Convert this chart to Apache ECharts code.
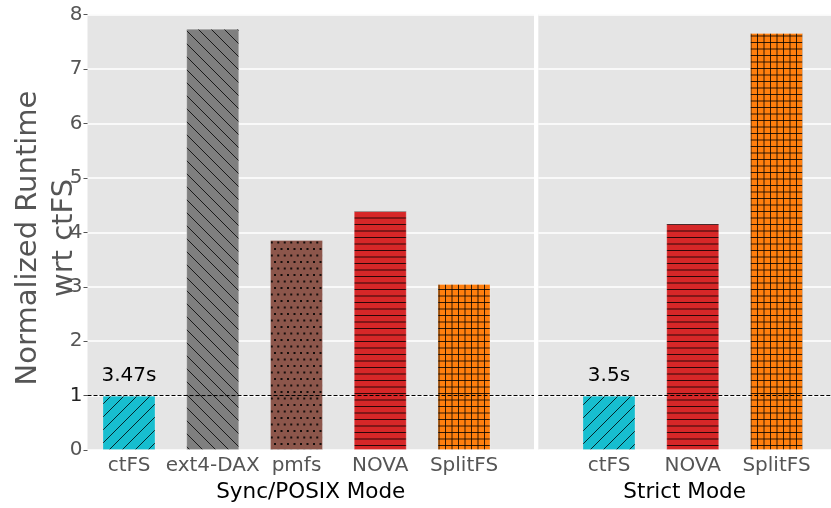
<!DOCTYPE html>
<html>
<head>
<meta charset="utf-8">
<script src="https://cdn.jsdelivr.net/npm/echarts@6/dist/echarts.min.js"></script>
<style>
  html, body { margin: 0; padding: 0; background: #fff; }
  #chart { width: 831px; height: 508px; }
</style>
</head>
<body>
<div id="chart"></div>
<script>
// Runtime normalised to ctFS, per file system, in two consistency modes
const posixCats = ['ctFS', 'ext4-DAX', 'pmfs', 'NOVA', 'SplitFS'];
const posixVals = [1.0, 7.74, 3.86, 4.39, 3.05];
const strictCats = ['ctFS', 'NOVA', 'SplitFS'];
const strictVals = [1.0, 4.16, 7.66];
const posixBaseLabel = '3.47s';
const strictBaseLabel = '3.5s';
const yTicks = [0, 1, 2, 3, 4, 5, 6, 7, 8];
const baseline = 1;

const FONT = 'DejaVu Sans';
const TICK_GREY = '#555555';

// Fill colour and hatch style for each file system
const fsStyle = {
  'ctFS':     { color: '#17becf', hatch: 'slash' },
  'ext4-DAX': { color: '#7f7f7f', hatch: 'backslash' },
  'pmfs':     { color: '#8c564b', hatch: 'dots' },
  'NOVA':     { color: '#d62728', hatch: 'hlines' },
  'SplitFS':  { color: '#ff7f0e', hatch: 'grid' }
};

function hatchPattern(bg, kind) {
  const s = 13;
  const c = document.createElement('canvas');
  c.width = s; c.height = s;
  const ctx = c.getContext('2d');
  ctx.fillStyle = bg;
  ctx.fillRect(0, 0, s, s);
  ctx.strokeStyle = 'rgba(0,0,0,0.8)';
  ctx.fillStyle = 'rgba(0,0,0,0.85)';
  ctx.lineWidth = 1;
  ctx.beginPath();
  if (kind === 'slash') {
    [0, s, 2 * s].forEach(k => { ctx.moveTo(-2, k + 2); ctx.lineTo(k + 2, -2); });
  } else if (kind === 'backslash') {
    [-s, 0, s].forEach(k => { ctx.moveTo(k - 2, -2); ctx.lineTo(k + s + 2, s + 2); });
  } else if (kind === 'hlines' || kind === 'grid') {
    [3.5, 10].forEach(y => { ctx.moveTo(0, y); ctx.lineTo(s, y); });
    if (kind === 'grid') {
      [3.5, 10].forEach(x => { ctx.moveTo(x, 0); ctx.lineTo(x, s); });
    }
  }
  ctx.stroke();
  if (kind === 'dots') {
    [[2, 2], [8.5, 2], [5.25, 8.5], [11.75, 8.5], [-1.25, 8.5]].forEach(([x, y]) => {
      ctx.fillRect(x - 1, y - 1, 2, 2);
    });
  }
  return { image: c, repeat: 'repeat' };
}

function barItems(cats, vals, baseText) {
  return cats.map((name, i) => {
    const st = fsStyle[name];
    const item = {
      value: [i, vals[i]],
      itemStyle: {
        color: hatchPattern(st.color, st.hatch),
        borderColor: 'rgba(255,255,255,0.25)',
        borderWidth: 1
      }
    };
    if (i === 0) {
      item.label = {
        show: true, position: 'top', distance: 10,
        formatter: baseText, color: '#000', fontSize: 20, fontFamily: FONT
      };
    }
    return item;
  });
}

function xAxisFor(gridIndex, cats, min, max, title) {
  return {
    type: 'value', gridIndex, min, max,
    splitLine: { show: false },
    axisLine: { show: false, onZero: false },
    axisTick: { show: false },
    axisLabel: {
      customValues: cats.map((_, i) => i),
      formatter: v => cats[Math.round(v)],
      color: TICK_GREY, fontSize: 20, fontFamily: FONT, margin: 6
    },
    name: title, nameLocation: 'middle', nameGap: 30,
    nameTextStyle: { color: '#000', fontSize: 21.5, fontFamily: FONT }
  };
}

function yAxisFor(gridIndex, showLabels) {
  return {
    type: 'value', gridIndex, min: yTicks[0], max: yTicks[yTicks.length - 1], interval: 1,
    axisLine: { show: false, onZero: false },
    axisTick: { show: showLabels, length: 4, lineStyle: { color: TICK_GREY } },
    axisLabel: {
      show: showLabels, color: TICK_GREY, fontSize: 20, fontFamily: FONT, margin: 5,
      formatter: v => (v === baseline ? '{b|' + v + '}' : String(v)),
      rich: { b: { color: '#222', fontSize: 20, fontFamily: FONT } }
    },
    splitLine: { show: true, lineStyle: { color: '#ffffff', width: 1.6 } }
  };
}

const baselineMark = {
  silent: true,
  symbol: ['none', 'none'],
  label: { show: false },
  lineStyle: { color: '#000', type: [4, 2], width: 1 },
  data: [{ yAxis: baseline }]
};

const chart = echarts.init(document.getElementById('chart'), null, { renderer: 'canvas' });
chart.setOption({
  animation: false,
  backgroundColor: '#ffffff',
  grid: [
    { left: 87.5, right: 297, top: 14.5, bottom: 53.5, show: true, backgroundColor: '#e5e5e5', borderWidth: 0 },
    { left: 538.3, right: 0, top: 14.5, bottom: 53.5, show: true, backgroundColor: '#e5e5e5', borderWidth: 0 }
  ],
  xAxis: [
    xAxisFor(0, posixCats, -0.4955, 4.836, 'Sync/POSIX Mode'),
    xAxisFor(1, strictCats, -0.844, 2.651, 'Strict Mode')
  ],
  yAxis: [yAxisFor(0, true), yAxisFor(1, false)],
  graphic: [{
    type: 'text',
    x: 46, y: 238,
    rotation: Math.PI / 2,
    style: {
      text: 'Normalized Runtime\nwrt ctFS',
      fill: TICK_GREY,
      font: '29px "DejaVu Sans"',
      align: 'center',
      verticalAlign: 'middle',
      lineHeight: 36
    }
  }],
  series: [
    {
      type: 'bar', xAxisIndex: 0, yAxisIndex: 0, barWidth: 53,
      data: barItems(posixCats, posixVals, posixBaseLabel),
      markLine: baselineMark
    },
    {
      type: 'bar', xAxisIndex: 1, yAxisIndex: 1, barWidth: 53,
      data: barItems(strictCats, strictVals, strictBaseLabel),
      markLine: baselineMark
    }
  ]
});
</script>
</body>
</html>
